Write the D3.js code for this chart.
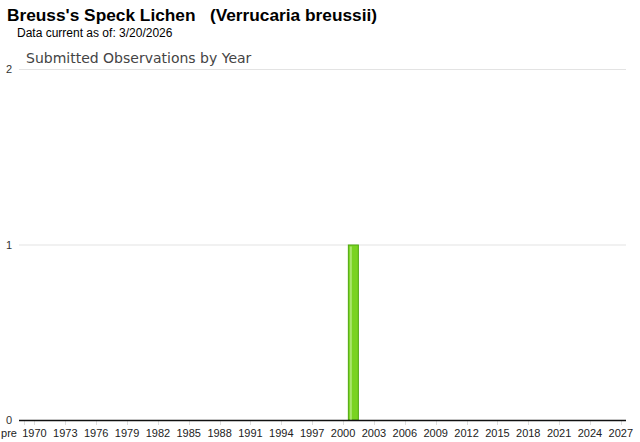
<!DOCTYPE html>
<html><head><meta charset="utf-8">
<script src="https://cdn.jsdelivr.net/npm/d3@7"></script>
<style>body{margin:0;background:#fff;} svg{display:block;}</style>
</head><body>
<script>
const titleText = "Breuss's Speck Lichen   (Verrucaria breussii)";
const subtitleText = "Data current as of: 3/20/2026";
const chartTitle = "Submitted Observations by Year";
const years = ["pre"].concat(d3.range(1970, 2028).map(String));
const observedYears = ["2001"];
const observedCounts = [1];
const yTicks = [0, 1, 2];
const xTickLabels = ["pre"].concat(d3.range(1970, 2028, 3).map(String));

const W = 640, H = 442;
const svg = d3.select("body").append("svg").attr("width", W).attr("height", H);

svg.append("text").attr("x", 7).attr("y", 21)
  .attr("font-family", "Liberation Sans, Arial, sans-serif").attr("font-weight", "bold")
  .attr("font-size", 17.3).attr("fill", "#000").style("white-space", "pre").text(titleText);
svg.append("text").attr("x", 17).attr("y", 37)
  .attr("font-family", "Liberation Sans, Arial, sans-serif")
  .attr("font-size", 12).attr("fill", "#000").text(subtitleText);
svg.append("text").attr("x", 26).attr("y", 63)
  .attr("font-family", "DejaVu Sans, sans-serif")
  .attr("font-size", 14).attr("fill", "#444").text(chartTitle);

const x = d3.scaleBand().domain(years).range([19, 626]).paddingInner(0);
const y = d3.scaleLinear().domain([0, 2]).range([420, 69]);

// gridlines
svg.append("g").selectAll("line").data(yTicks.filter(d => d > 0)).join("line")
  .attr("x1", 19).attr("x2", 626).attr("y1", d => y(d) + 0.5).attr("y2", d => y(d) + 0.5)
  .attr("stroke", "#e3e3e3").attr("stroke-width", 1);

// y labels
svg.append("g").selectAll("text").data(yTicks).join("text")
  .attr("x", 9).attr("y", d => y(d) + 4).attr("text-anchor", "middle")
  .attr("font-family", "Liberation Sans, Arial, sans-serif").attr("font-size", 11)
  .attr("fill", "#333").text(d => d);

// x ticks
svg.append("g").selectAll("line").data(xTickLabels).join("line")
  .attr("x1", d => Math.round(x(d) + x.bandwidth() / 2) + 0.5)
  .attr("x2", d => Math.round(x(d) + x.bandwidth() / 2) + 0.5)
  .attr("y1", 420).attr("y2", 425).attr("stroke", "#ddd");

// bars
const data = observedYears.map((yr, i) => ({year: yr, value: observedCounts[i]}));
const bw = 11;
const bars = svg.append("g").selectAll("g").data(data).join("g");
bars.append("rect")
  .attr("x", d => x(d.year) + x.bandwidth() / 2 - bw / 2 + 0.5)
  .attr("y", d => y(d.value) + 0.5)
  .attr("width", bw - 1).attr("height", d => y(0) - y(d.value) - 0.5)
  .attr("fill", "#79d321").attr("stroke", "#4fa80e").attr("stroke-width", 1);
bars.append("rect")
  .attr("x", d => x(d.year) + x.bandwidth() / 2 - bw / 2 + 2)
  .attr("y", d => y(d.value) + 2)
  .attr("width", 2).attr("height", d => y(0) - y(d.value) - 2)
  .attr("fill", "#a9e66c");

// axis line
svg.append("line").attr("x1", 19).attr("x2", 626).attr("y1", 420.5).attr("y2", 420.5)
  .attr("stroke", "#111").attr("stroke-width", 1.3);

// x labels
svg.append("g").selectAll("text").data(xTickLabels).join("text")
  .attr("x", d => d === "pre" ? 17 : x(d) + x.bandwidth() / 2)
  .attr("y", 437)
  .attr("text-anchor", d => d === "pre" ? "end" : "middle")
  .attr("font-family", "Liberation Sans, Arial, sans-serif").attr("font-size", 11)
  .attr("fill", "#222").text(d => d);
</script>
</body></html>
